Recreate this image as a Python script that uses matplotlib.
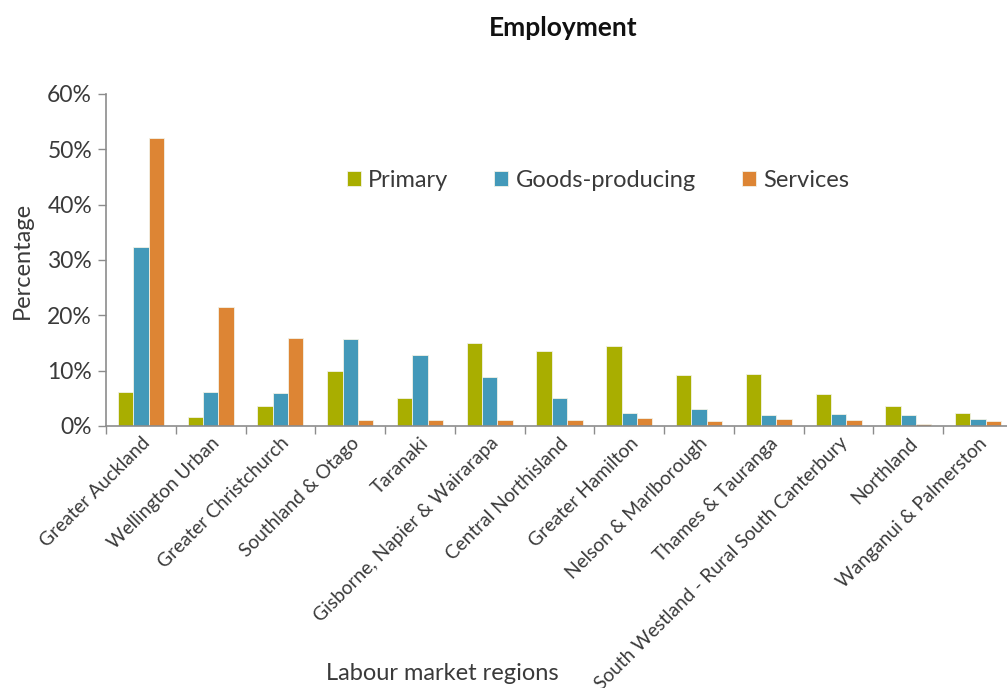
import numpy as np
import matplotlib
matplotlib.use("Agg")
import matplotlib.pyplot as plt

regions = [
    "Greater Auckland", "Wellington Urban", "Greater Christchurch",
    "Southland & Otago", "Taranaki", "Gisborne, Napier & Wairarapa",
    "Central Northisland", "Greater Hamilton", "Nelson & Marlborough",
    "Thames & Tauranga", "South Westland - Rural South Canterbury",
    "Northland", "Wanganui & Palmerston",
]
primary = [6.2, 1.7, 3.7, 9.9, 5.0, 15.0, 13.5, 14.5, 9.3, 9.4, 5.8, 3.7, 2.3]
goods_producing = [32.3, 6.2, 6.0, 15.8, 12.9, 8.9, 5.1, 2.3, 3.1, 1.9, 2.1, 1.9, 1.3]
services = [52.0, 21.5, 15.9, 1.1, 1.1, 1.1, 1.1, 1.5, 0.9, 1.3, 1.1, 0.4, 0.9]
y_ticks = [0, 10, 20, 30, 40, 50, 60]

plt.rcParams["font.family"] = ["Lato", "DejaVu Sans"]
text_color = "#3A3A3A"

fig = plt.figure(figsize=(10.07, 6.88), dpi=100)
ax = fig.add_axes([106 / 1007, 1 - 426 / 688, (1013 - 106) / 1007, (426 - 94) / 688])

x = np.arange(len(regions))
w = 0.22
colors = ["#A9AE00", "#4399B9", "#DD8534"]
series = [("Primary", primary), ("Goods-producing", goods_producing), ("Services", services)]
for i, (name, vals) in enumerate(series):
    ax.bar(x + (i - 1) * w, vals, width=w, color=colors[i], label=name,
           edgecolor="#F2F2E6", linewidth=0.6)

ax.set_xlim(-0.5, len(regions) - 0.5)
ax.set_ylim(0, 60)
ax.set_yticks(y_ticks)
ax.set_yticklabels([f"{v}%" for v in y_ticks], fontsize=16.5, color=text_color)

ax.set_xticks(x)
ax.set_xticklabels(regions, rotation=45, ha="right", rotation_mode="anchor",
                   fontsize=13.8, color=text_color)
ax.tick_params(axis="x", which="major", length=0, pad=6)
ax.set_xticks(np.arange(len(regions)) - 0.5, minor=True)
ax.tick_params(axis="x", which="minor", length=6, color="#8C8C8C", width=1)
ax.tick_params(axis="y", length=6, color="#8C8C8C", width=1, pad=4)

for s in ["top", "right"]:
    ax.spines[s].set_visible(False)
for s in ["left", "bottom"]:
    ax.spines[s].set_color("#8C8C8C")
    ax.spines[s].set_linewidth(1.2)

leg = ax.legend(loc="upper left", bbox_to_anchor=(0.242, 0.835), ncol=3, frameon=False,
                prop={"size": 17}, handlelength=0.6, handleheight=0.6,
                handletextpad=0.3, columnspacing=1.95)
for t in leg.get_texts():
    t.set_color(text_color)

fig.text(563 / 1007, 1 - 28 / 688, "Employment", ha="center", va="center",
         fontsize=19, fontweight="bold", color="#111111")
fig.text(22 / 1007, 1 - 260 / 688, "Percentage", rotation=90, ha="center",
         va="center", fontsize=17, color=text_color)
fig.text(442 / 1007, 1 - 673 / 688, "Labour market regions", ha="center",
         va="center", fontsize=17, color=text_color)

fig.savefig("out.png", dpi=100, facecolor="white")
